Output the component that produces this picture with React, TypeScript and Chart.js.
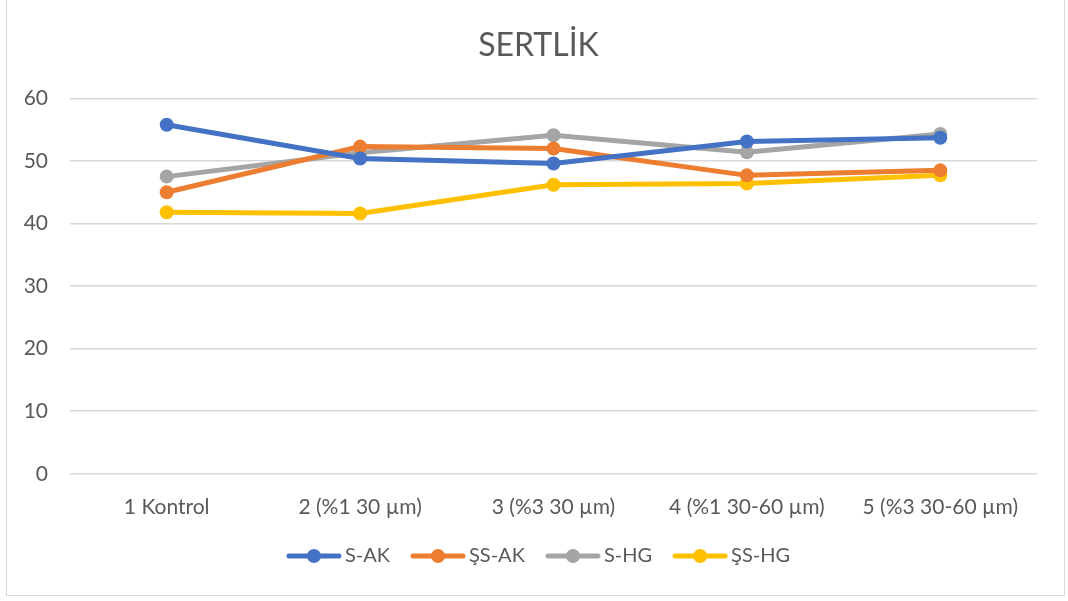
import React, { useEffect, useRef } from "react";
import { Chart, registerables } from "chart.js";

Chart.register(...registerables);

const categories = ["1 Kontrol", "2 (%1 30 µm)", "3 (%3 30 µm)", "4 (%1 30-60 µm)", "5 (%3 30-60 µm)"];
const seriesNames = ["S-AK", "ŞS-AK", "S-HG", "ŞS-HG"];
const sAK = [55.8, 50.4, 49.6, 53.1, 53.7];
const ssAK = [45.0, 52.3, 52.0, 47.7, 48.5];
const sHG = [47.5, 51.3, 54.1, 51.4, 54.3];
const ssHG = [41.8, 41.6, 46.2, 46.4, 47.7];
const colors = ["#4472C4", "#ED7D31", "#A5A5A5", "#FFC000"];
const yTicks = [0, 10, 20, 30, 40, 50, 60];
const titleText = "SERTLİK";

const FONT = "Lato, 'Open Sans', sans-serif";

function legendImage(color: string): HTMLCanvasElement {
  const c = document.createElement("canvas");
  c.width = 62;
  c.height = 16;
  const ctx = c.getContext("2d")!;
  ctx.strokeStyle = color;
  ctx.lineWidth = 5;
  ctx.lineCap = "round";
  ctx.beginPath();
  ctx.moveTo(9, 8);
  ctx.lineTo(59, 8);
  ctx.stroke();
  ctx.fillStyle = color;
  ctx.beginPath();
  ctx.arc(34, 8, 7, 0, Math.PI * 2);
  ctx.fill();
  return c;
}

const shiftBoxes = {
  id: "shiftBoxes",
  afterLayout(chart: any) {
    const dx = 20;
    if (chart.legend) {
      chart.legend.left += dx;
      chart.legend.right += dx;
    }
    if (chart.titleBlock) {
      chart.titleBlock.left += dx;
      chart.titleBlock.right += dx;
    }
  },
};

export default function App() {
  const ref = useRef<HTMLCanvasElement | null>(null);
  useEffect(() => {
    if (!ref.current) return;
    const data = [sAK, ssAK, sHG, ssHG];
    const chart = new Chart(ref.current, {
      type: "line",
      data: {
        labels: categories,
        datasets: seriesNames.map((name, i) => ({
          label: name,
          data: data[i],
          borderColor: colors[i],
          backgroundColor: colors[i],
          borderWidth: 5,
          pointRadius: 7,
          pointHoverRadius: 7,
          pointBorderWidth: 0,
          pointBackgroundColor: colors[i],
          pointStyle: "circle",
          tension: 0,
        })),
      },
      plugins: [shiftBoxes],
      options: {
        responsive: false,
        animation: false,
        layout: { padding: { left: 0, right: 31, top: 0, bottom: 25 } },
        plugins: {
          title: {
            display: true,
            text: titleText,
            color: "#595959",
            font: { family: FONT, size: 32, weight: "normal" },
            padding: { top: 26, bottom: 34 },
          },
          legend: {
            position: "bottom",
            labels: {
              color: "#595959",
              font: { family: FONT, size: 20 },
              usePointStyle: true,
              pointStyleWidth: 48,
              padding: 21,
              generateLabels: (ch: any) =>
                ch.data.datasets.map((ds: any, i: number) => ({
                  text: ds.label,
                  fillStyle: colors[i],
                  strokeStyle: colors[i],
                  fontColor: "#595959",
                  pointStyle: legendImage(colors[i]),
                  hidden: false,
                  datasetIndex: i,
                  lineWidth: 0,
                })),
            },
          },
          tooltip: { enabled: false },
        },
        scales: {
          x: {
            offset: true,
            grid: { display: false },
            border: { display: false },
            ticks: { color: "#595959", font: { family: FONT, size: 21 }, padding: 13, maxRotation: 0 },
            afterFit: (axis: any) => {
              axis.height = axis.height - 8;
            },
          },
          y: {
            min: 0,
            max: 60,
            afterBuildTicks: (axis: any) => {
              axis.ticks = yTicks.map((v) => ({ value: v }));
            },
            afterFit: (axis: any) => {
              axis.width = 70;
            },
            grid: { color: "#D9D9D9", lineWidth: 1.5, drawTicks: false },
            border: { display: false },
            ticks: { color: "#595959", font: { family: FONT, size: 21 }, padding: 22 },
          },
        },
      },
    });
    return () => chart.destroy();
  }, []);
  return (
    <div style={{ position: "fixed", left: 0, top: 0, width: 1068, height: 601, background: "#fff" }}>
      <div
        style={{
          position: "absolute",
          left: 6,
          top: -1,
          width: 1059,
          height: 597,
          border: "1px solid #D9D9D9",
          boxSizing: "border-box",
        }}
      />
      <canvas ref={ref} width={1068} height={601} style={{ position: "absolute", left: 0, top: 0 }} />
    </div>
  );
}
